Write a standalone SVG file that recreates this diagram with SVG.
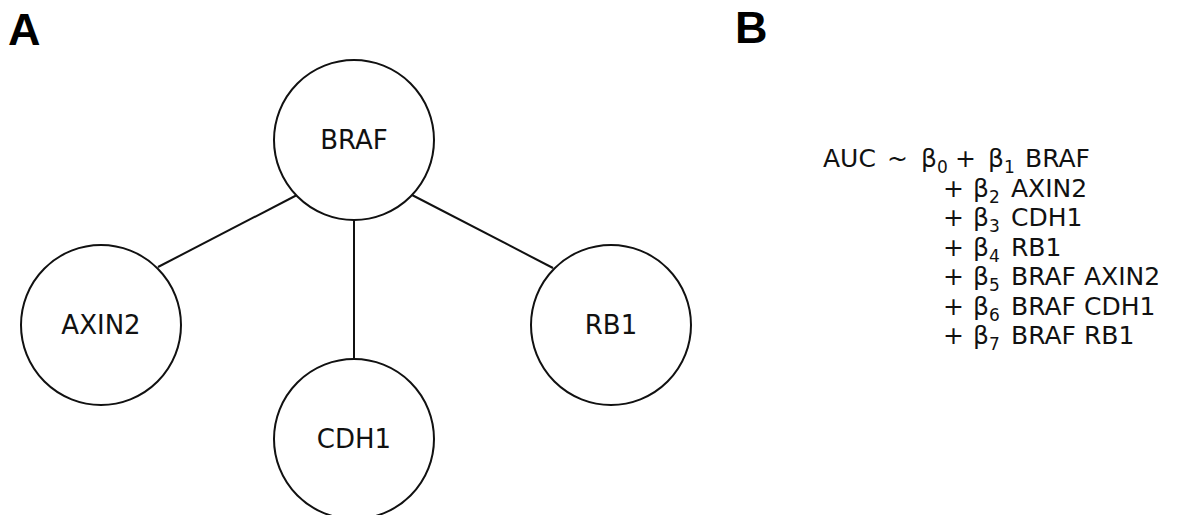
<svg xmlns="http://www.w3.org/2000/svg" width="1177" height="515" viewBox="0 0 1177 515">
<style>
.node{fill:#fff;stroke:#111;stroke-width:2}
.lbl{font-family:"DejaVu Sans",Verdana,sans-serif;font-size:26px;fill:#111;text-anchor:middle;dominant-baseline:central}
.panel{font-family:"Liberation Sans",Arial,sans-serif;font-weight:bold;font-size:45px;fill:#000}
.eq{font-family:"DejaVu Sans",Verdana,sans-serif;font-size:25px;fill:#111}
.sub{font-size:17px}
.edge{stroke:#111;stroke-width:2;fill:none}
</style>
<rect width="1177" height="515" fill="#fff"/>
<text class="panel" x="8" y="45">A</text>
<text class="panel" x="735" y="43">B</text>
<g id="connectors">
<line class="edge" x1="158" y1="267" x2="297" y2="195"/>
<line class="edge" x1="354" y1="220" x2="354" y2="358"/>
<line class="edge" x1="412" y1="195" x2="553" y2="268"/>
</g>
<g id="node-BRAF"><circle class="node" cx="354" cy="140" r="80"/><text class="lbl" x="354" y="140">BRAF</text></g>
<g id="node-AXIN2"><circle class="node" cx="101" cy="325" r="80"/><text class="lbl" x="101" y="325">AXIN2</text></g>
<g id="node-CDH1"><circle class="node" cx="354" cy="439" r="80"/><text class="lbl" x="354" y="439">CDH1</text></g>
<g id="node-RB1"><circle class="node" cx="611" cy="325" r="80"/><text class="lbl" x="611" y="325">RB1</text></g>
<g id="formula">
<text class="eq" y="167"><tspan x="823">AUC</tspan><tspan x="887">~</tspan><tspan x="921">β</tspan><tspan class="sub" dy="6">0</tspan><tspan x="955" dy="-6">+</tspan><tspan x="988">β</tspan><tspan class="sub" dy="6">1</tspan><tspan x="1025" dy="-6">BRAF</tspan></text>
<text class="eq" y="196.5"><tspan x="943">+</tspan><tspan x="973">β</tspan><tspan class="sub" dy="6">2</tspan><tspan x="1011" dy="-6">AXIN2</tspan></text>
<text class="eq" y="226"><tspan x="943">+</tspan><tspan x="973">β</tspan><tspan class="sub" dy="6">3</tspan><tspan x="1011" dy="-6">CDH1</tspan></text>
<text class="eq" y="255.5"><tspan x="943">+</tspan><tspan x="973">β</tspan><tspan class="sub" dy="6">4</tspan><tspan x="1011" dy="-6">RB1</tspan></text>
<text class="eq" y="285"><tspan x="943">+</tspan><tspan x="973">β</tspan><tspan class="sub" dy="6">5</tspan><tspan x="1011" dy="-6">BRAF AXIN2</tspan></text>
<text class="eq" y="314.5"><tspan x="943">+</tspan><tspan x="973">β</tspan><tspan class="sub" dy="6">6</tspan><tspan x="1011" dy="-6">BRAF CDH1</tspan></text>
<text class="eq" y="344"><tspan x="943">+</tspan><tspan x="973">β</tspan><tspan class="sub" dy="6">7</tspan><tspan x="1011" dy="-6">BRAF RB1</tspan></text>
</g>
</svg>
